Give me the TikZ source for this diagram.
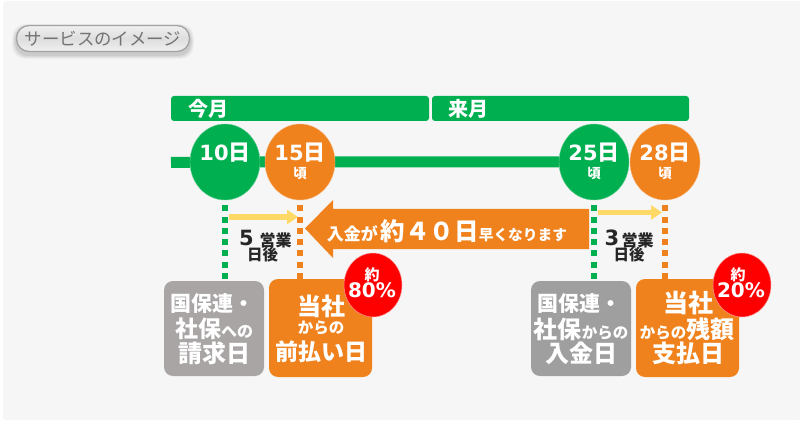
\documentclass[tikz,border=0pt]{standalone}
\usepackage{fontspec}
\setmainfont{Noto Sans CJK JP}
\newfontfamily\dgfont{DejaVu Sans}
\usetikzlibrary{arrows.meta,shapes.geometric,backgrounds}
\definecolor{grn}{HTML}{00AF50}
\definecolor{org}{HTML}{F0821E}
\definecolor{ylw}{HTML}{FFD966}
\definecolor{graya}{HTML}{A9A5A5}
\definecolor{grayb}{HTML}{9F9F9F}
\definecolor{pnl}{HTML}{F6F6F6}
\newcommand{\fsz}[1]{\fontsize{#1}{#1}\selectfont}
\newcommand{\dg}[2]{{\dgfont\bfseries\fsz{#1}#2}}
\tikzset{
  monthbar/.style={fill=grn,rounded corners=3pt,minimum height=25pt,inner sep=0pt},
  daydot/.style={ellipse,minimum width=70pt,minimum height=76pt,inner sep=0pt,draw=white!40!#1,line width=.4pt,fill=#1},
  wtxt/.style={text=white,font=\bfseries,inner sep=0pt,align=center},
  ktxt/.style={text=black!85,font=\bfseries,inner sep=0pt,align=center},
  infobox/.style={rounded corners=9pt,fill=#1,inner sep=0pt,text=white,font=\bfseries,align=center},
  redbadge/.style={ellipse,fill=red,draw=white!60!red,line width=.5pt,minimum width=58pt,minimum height=64pt,inner sep=0pt},
  dots/.style={#1,line width=6pt,dash pattern=on 6pt off 5.3pt,shorten <=5pt},
  yarrow/.style={ylw,line width=5.5pt,-{Triangle[length=11pt,width=14pt]}},
}
\begin{document}
\begin{tikzpicture}[x=1pt,y=-1pt]
\useasboundingbox (0,0) rectangle (800,422);

% pill
\foreach \o/\d in {.03/4,.04/3,.05/2,.06/1}{
  \fill[black,opacity=\o,rounded corners=13pt] (16-\d,28-\d) rectangle (190+\d,55+\d);
}
\node[draw=black!36,line width=1.3pt,rounded corners=12.5pt,top color=white!94!black,bottom color=white!94!black,middle color=black!13,
  minimum width=173pt,minimum height=26pt,inner sep=0pt,text=black!55,font=\fsz{17.4}] (pill) at (103,38.5) {サービスのイメージ};

% month bars
\node[monthbar,minimum width=258pt] (m1) at (300,108.5) {};
\node[monthbar,minimum width=257pt] (m2) at (560.5,108.5) {};
\node[wtxt,font=\bfseries\fsz{20}] (m1t) at (208,109) {今月};
\node[wtxt,font=\bfseries\fsz{20}] (m2t) at (468,109) {来月};

% day circles
\node[daydot=grn] (c10) at (225,162) {};
\node[daydot=org] (c15) at (300,162) {};
\node[daydot=grn] (c25) at (594,162) {};
\node[daydot=org] (c28) at (665,162) {};
\node[wtxt] (t10) at (225,153) {\dg{21}{10}{\fsz{22}日}};
\node[wtxt] (t15) at (300,153) {\dg{21}{15}{\fsz{22}日}};
\node[wtxt] (t25) at (594,153) {\dg{21}{25}{\fsz{22}日}};
\node[wtxt] (t28) at (665,153) {\dg{21}{28}{\fsz{22}日}};
\node[wtxt,font=\bfseries\fsz{13.5}] (k15) at (300,174) {頃};
\node[wtxt,font=\bfseries\fsz{13.5}] (k25) at (594,174) {頃};
\node[wtxt,font=\bfseries\fsz{13.5}] (k28) at (665,174) {頃};

% boxes
\node[infobox=graya,minimum width=100pt,minimum height=95pt] (b1) at (214,328.5) {};
\node[infobox=org,minimum width=103pt,minimum height=98pt] (b2) at (320.5,328) {};
\node[infobox=grayb,minimum width=100pt,minimum height=95pt] (b3) at (581,328.5) {};
\node[infobox=org,minimum width=103pt,minimum height=98pt] (b4) at (687.5,328) {};

\node[wtxt,font=\bfseries\fsz{21}] (b1a) at (212,304) {国保連・};
\node[wtxt] (b1b) at (214,329) {\fsz{23}社保\fsz{16}への};
\node[wtxt,font=\bfseries\fsz{24}] (b1c) at (214,353) {請求日};

\node[wtxt,font=\bfseries\fsz{24}] (b2a) at (321,306) {当社};
\node[wtxt,font=\bfseries\fsz{15.5}] (b2b) at (321,328) {からの};
\node[wtxt,font=\bfseries\fsz{23}] (b2c) at (321,352) {前払い日};

\node[wtxt,font=\bfseries\fsz{21}] (b3a) at (579,304) {国保連・};
\node[wtxt] (b3b) at (581,329) {\fsz{24}社保\fsz{15.5}からの};
\node[wtxt,font=\bfseries\fsz{24}] (b3c) at (581,353) {入金日};

\node[wtxt,font=\bfseries\fsz{25}] (b4a) at (688,303) {当社};
\node[wtxt] (b4b) at (687,329) {\fsz{15.5}からの\fsz{24}残額};
\node[wtxt,font=\bfseries\fsz{24}] (b4c) at (688,353) {支払日};

% badges
\node[redbadge] (r1) at (373,285) {};
\node[redbadge] (r2) at (742,285) {};
\node[wtxt,font=\bfseries\fsz{15}] (r1a) at (372,275) {約};
\node[wtxt] (r1b) at (372,290) {\dg{20}{80\%}};
\node[wtxt,font=\bfseries\fsz{15}] (r2a) at (738,275) {約};
\node[wtxt] (r2b) at (741,290) {\dg{20}{20\%}};

% big arrow
\fill[org] (305,228.5) -- (333,200) -- (333,209) -- (589,209) -- (589,249) -- (333,249) -- (333,258) -- cycle;
\node[wtxt] (big) at (447,231) {\fsz{17}入金が\,\fsz{24.5}約４０日\fsz{14.7}早くなります};

% yellow arrows
\coordinate (y1a) at (229,217);
\coordinate (y1b) at (298,217);
\coordinate (y2a) at (598,212.5);
\coordinate (y2b) at (662,212.5);
\draw[yarrow] (y1a) -- (y1b);
\draw[yarrow] (y2a) -- (y2b);

% day labels
\node[ktxt] (d1a) at (246.5,238) {\dg{21}{5}};
\node[ktxt,font=\bfseries\fsz{16}] (d1b) at (275.5,240) {営業};
\node[ktxt,font=\bfseries\fsz{15.5}] (d1c) at (262.5,255) {日後};
\node[ktxt] (d2a) at (612,238) {\dg{21}{3}};
\node[ktxt,font=\bfseries\fsz{16}] (d2b) at (637.5,240) {営業};
\node[ktxt,font=\bfseries\fsz{15.5}] (d2c) at (629,255) {日後};

\begin{scope}[on background layer]
  \fill[white] (0,0) rectangle (800,422);
  \fill[pnl,rounded corners=3pt] (3,1) rectangle (802,420);
  \coordinate (ls) at (171,162.5);
  \draw[grn,line width=11pt] (ls) -- (c10) -- (c15) -- (c25);
  \draw[dots=grn] (c10.south) -- (c10.south |- b1.north);
  \draw[dots=org] (c15.south) -- (c15.south |- b2.north);
  \draw[dots=grn] (c25.south) -- (c25.south |- b3.north);
  \draw[dots=org] (c28.south) -- (c28.south |- b4.north);
\end{scope}
\end{tikzpicture}
\end{document}
